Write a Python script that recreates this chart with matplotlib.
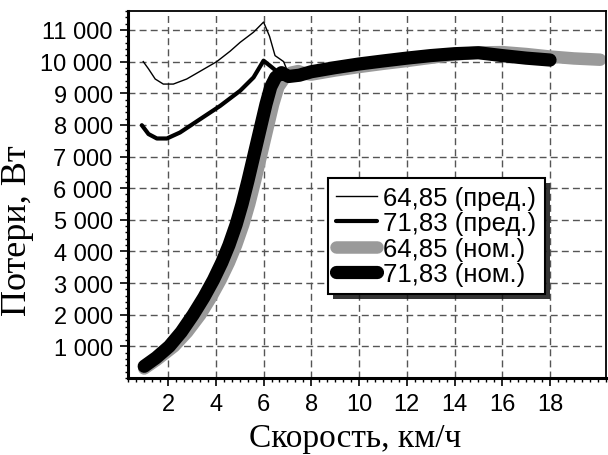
"""
Потери в зависимости от скорости — предельный и номинальный режимы.

Recreates the loss-vs-speed chart for two ratings (64,85 and 71,83)
and saves it as out.png (608x456).
"""

import matplotlib
matplotlib.use("Agg")
import matplotlib.pyplot as plt
from matplotlib.patches import Rectangle
from matplotlib.ticker import FixedLocator, MultipleLocator, FuncFormatter
from matplotlib.transforms import IdentityTransform


# ---------- Data ----------
X_PRED_6485 = [0.96, 1.18, 1.46, 1.8, 2.22, 2.78, 3.4, 4.04, 4.6, 5.02, 5.58, 6.0,
               6.25, 6.48, 6.84, 7.0]
Y_PRED_6485 = [10000, 9770, 9450, 9290, 9290, 9450, 9720, 10000, 10330, 10610, 10930, 11250,
               10800, 10190, 10000, 9700]

X_PRED_7183 = [0.9, 1.18, 1.53, 1.95, 2.5, 3.34, 4.18, 5.02, 5.58, 6.0, 6.3, 6.7]
Y_PRED_7183 = [7990, 7710, 7570, 7570, 7760, 8180, 8600, 9080, 9500, 10030, 9850, 9600]

X_NOM_6485 = [1.0, 1.5, 2.25, 2.8, 3.35, 3.8, 4.2, 4.55, 4.85, 5.15, 5.4, 5.65, 5.9,
              6.15, 6.4, 6.62, 6.85, 7.15, 7.45, 7.8, 8.0, 9.0, 10.0, 11.0, 12.0, 13.0,
              14.0, 15.0, 16.0, 17.0, 18.0, 19.0, 20.1]
Y_NOM_6485 = [300, 560, 1000, 1450, 2000, 2550, 3100, 3650, 4200, 4850, 5500, 6250, 7050,
              7850, 8650, 9200, 9450, 9650, 9700, 9610, 9590, 9720, 9830, 9930, 10020, 10120,
              10220, 10290, 10300, 10240, 10160, 10100, 10060]

X_NOM_7183 = [1.0, 1.5, 2.05, 2.55, 3.05, 3.5, 3.9, 4.25, 4.55, 4.85, 5.1, 5.35, 5.6,
              5.85, 6.1, 6.3, 6.5, 6.75, 7.05, 7.5, 8.0, 9.0, 10.0, 11.0, 12.0, 13.0,
              14.0, 15.0, 16.0, 17.0, 18.0]
Y_NOM_7183 = [370, 640, 1000, 1450, 2000, 2550, 3100, 3650, 4200, 4850, 5500, 6250, 7050,
              7850, 8650, 9200, 9500, 9650, 9530, 9570, 9680, 9810, 9925, 10020, 10110,
              10190, 10250, 10280, 10190, 10110, 10050]

LABELS = ["64,85 (пред.)", "71,83 (пред.)", "64,85 (ном.)", "71,83 (ном.)"]
X_TICKS = [2, 4, 6, 8, 10, 12, 14, 16, 18]
Y_TICKS = [1000, 2000, 3000, 4000, 5000, 6000, 7000, 8000, 9000, 10000, 11000]

# ---------- Theme ----------
GRAY = "#9a9a9a"
GRID = "#555555"
SANS = "Liberation Sans"
SERIF = "Liberation Serif"


def thousands(v, _pos):
    return f"{int(v):,}".replace(",", " ")


def main() -> None:
    fig = plt.figure(figsize=(6.08, 4.56), dpi=100)
    ax = fig.add_axes([0.2105, 0.1689, 0.786, 0.8048])

    ax.plot(X_PRED_6485, Y_PRED_6485, color="black", lw=1.0, label=LABELS[0])
    ax.plot(X_PRED_7183, Y_PRED_7183, color="black", lw=3.0, label=LABELS[1],
            solid_capstyle="round", solid_joinstyle="round")
    ax.plot(X_NOM_6485, Y_NOM_6485, color=GRAY, lw=9.0, label=LABELS[2],
            solid_capstyle="round", solid_joinstyle="round")
    ax.plot(X_NOM_7183, Y_NOM_7183, color="black", lw=9.5, label=LABELS[3],
            solid_capstyle="round", solid_joinstyle="round")

    ax.set_xlim(0.32, 20.34)
    ax.set_ylim(0, 11600)
    ax.xaxis.set_major_locator(FixedLocator(X_TICKS))
    ax.xaxis.set_minor_locator(MultipleLocator(1 / 3))
    ax.yaxis.set_major_locator(FixedLocator(Y_TICKS))
    ax.yaxis.set_minor_locator(MultipleLocator(200))
    ax.yaxis.set_major_formatter(FuncFormatter(thousands))

    ax.set_axisbelow(True)
    ax.grid(True, which="major", color=GRID, linestyle=(0, (5, 3)), linewidth=1.0)

    ax.tick_params(which="major", direction="out", length=6, width=1.2, pad=5,
                   labelsize=17, colors="black")
    ax.tick_params(axis="x", which="minor", direction="out", length=3, width=1.0)
    ax.tick_params(axis="y", which="minor", direction="out", length=2, width=1.0)
    for lbl in ax.get_xticklabels() + ax.get_yticklabels():
        lbl.set_fontfamily(SANS)

    for side in ("left", "bottom"):
        ax.spines[side].set_linewidth(2.2)
    for side in ("top", "right"):
        ax.spines[side].set_linewidth(1.3)

    ax.set_xlabel("Скорость, км/ч", fontsize=24, family=SERIF)
    ax.set_ylabel("Потери, Вт", fontsize=26, family=SERIF)
    ax.xaxis.set_label_coords(0.475, -0.12)
    ax.yaxis.set_label_coords(-0.197, 0.403)

    leg = ax.legend(loc="upper left", bbox_to_anchor=(0.418, 0.545), borderaxespad=0,
                    prop={"family": SANS, "size": 18.5}, fancybox=False, framealpha=1,
                    edgecolor="black", handlelength=1.6, handletextpad=0.25,
                    labelspacing=0.05, borderpad=0.32)
    leg.get_frame().set_linewidth(1.5)

    # drop shadow under the legend box, offset down-right like the original
    fig.canvas.draw()
    bb = leg.get_window_extent()
    shadow = Rectangle((bb.x0 + 5, bb.y0 - 5), bb.width, bb.height,
                       transform=IdentityTransform(), facecolor="#111111",
                       edgecolor="none", alpha=0.85, zorder=leg.get_zorder() - 0.1,
                       clip_on=False)
    ax.add_artist(shadow)

    fig.savefig("out.png", dpi=100)
    plt.close(fig)


if __name__ == "__main__":
    main()
